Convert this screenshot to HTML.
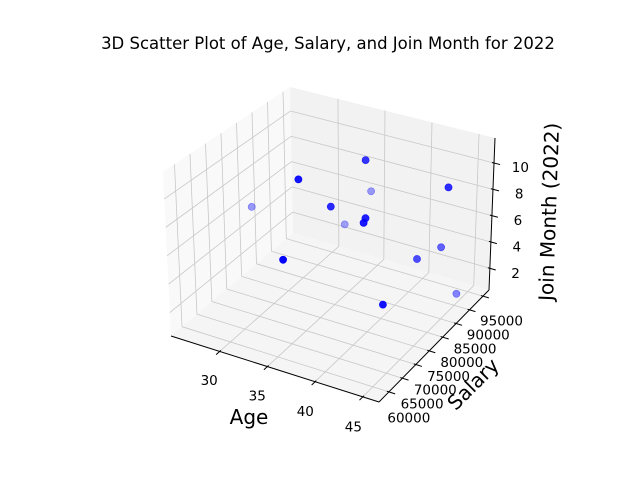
<!DOCTYPE html>
<html><head><meta charset="utf-8">
<style>
html,body{margin:0;padding:0;background:#fff;}
svg{display:block;font-family:"DejaVu Sans","Liberation Sans",sans-serif;}
</style></head>
<body>
<svg id="chart" width="640" height="480" viewBox="0 0 640 480" xmlns="http://www.w3.org/2000/svg">
  <text x="328" y="49" font-size="16.5" text-anchor="middle" fill="#000">3D Scatter Plot of Age, Salary, and Join Month for 2022</text>
  <g id="panes"></g>
  <g id="grid"></g>
  <g id="axes"></g>
  <g id="points"></g>
  <text x="249" y="424" font-size="20" text-anchor="middle">Age</text>
  <text x="0" y="0" font-size="20" text-anchor="middle" transform="translate(478,389) rotate(-45)">Salary</text>
  <text x="0" y="0" font-size="20" text-anchor="middle" transform="translate(556,212) rotate(-88)">Join Month (2022)</text>
</svg>
<script>
const ages = [25.9, 34.7, 38, 45.5, 36.8, 34.9, 40.4, 40.5, 33.3, 36.2, 44.3, 43.5, 44.3, 45.5];
const salaries = [81000, 69000, 81000, 85000, 73000, 93000, 73000, 72000, 89000, 58500, 87000, 81000, 66000, 89000];
const months = [5.6, 11.3, 11.4, 10.1, 9.1, 6.4, 8.95, 8.8, 4.3, 7.6, 5.1, 5.2, 4.8, 1.5];
const ageTicks = [30, 35, 40, 45];
const salaryTicks = [60000, 65000, 70000, 75000, 80000, 85000, 90000, 95000];
const monthTicks = [2, 4, 6, 8, 10];

const XL=[24.9,46.7], YL=[56300,97250], ZL=[0.35,11.9];
const C={ '000':[171,336],'100':[379,402],'110':[489,290],'010':[293,233],
          '011':[290,87],'111':[495,138],'001':[163,172],'101':[380,231]};
function lerp(a,b,t){return [a[0]+(b[0]-a[0])*t,a[1]+(b[1]-a[1])*t];}
function P(u,v,w){
  const a=lerp(C['000'],C['100'],u), b=lerp(C['010'],C['110'],u);
  const c=lerp(C['001'],C['101'],u), d=lerp(C['011'],C['111'],u);
  return lerp(lerp(a,b,v),lerp(c,d,v),w);
}
const nx=x=>(x-XL[0])/(XL[1]-XL[0]);
const ny=y=>(y-YL[0])/(YL[1]-YL[0]);
const nz=z=>(z-ZL[0])/(ZL[1]-ZL[0]);
const NS='http://www.w3.org/2000/svg';
function el(tag,attrs,parent){const e=document.createElementNS(NS,tag);for(const k in attrs)e.setAttribute(k,attrs[k]);parent.appendChild(e);return e;}
function poly(pts){return pts.map(p=>p[0].toFixed(1)+','+p[1].toFixed(1)).join(' ');}
function line(p,q,stroke,w,parent,name){const e=el('line',{x1:p[0],y1:p[1],x2:q[0],y2:q[1],stroke:stroke,'stroke-width':w},parent);
  
  
  return e;}

const panes=document.getElementById('panes');
let e;
e=el('polygon',{points:poly([P(0,0,0),P(0,1,0),P(0,1,1),P(0,0,1)]),fill:'#f9f9f9'},panes);


e=el('polygon',{points:poly([P(0,1,0),P(1,1,0),P(1,1,1),P(0,1,1)]),fill:'#f2f2f2'},panes);


e=el('polygon',{points:poly([P(0,0,0),P(1,0,0),P(1,1,0),P(0,1,0)]),fill:'#f5f5f5'},panes);



const grid=document.getElementById('grid');
const G='#c8c8c8';
ageTicks.forEach(t=>{const u=nx(t);
  line(P(u,0,0),P(u,1,0),G,0.8,grid,'grid-floor-age');
  line(P(u,1,0),P(u,1,1),G,0.8,grid,'grid-back-age');});
salaryTicks.forEach(t=>{const v=ny(t);
  line(P(0,v,0),P(1,v,0),G,0.8,grid,'grid-floor-salary');
  line(P(0,v,0),P(0,v,1),G,0.8,grid,'grid-left-salary');});
monthTicks.forEach(t=>{const w=nz(t);
  line(P(0,0,w),P(0,1,w),G,0.8,grid,'grid-left-month');
  line(P(0,1,w),P(1,1,w),G,0.8,grid,'grid-back-month');});

const axes=document.getElementById('axes');
line(P(0,0,0),P(1,0,0),'#000',1,axes,'x-axis-line');
line(P(1,0,0),P(1,1,0),'#000',1,axes,'y-axis-line');
line(P(1,1,0),P(1,1,1),'#000',1,axes,'z-axis-line');
function label(x,y,txt,anchor,name){const t=el('text',{x:x,y:y,'font-size':13.5,'text-anchor':anchor,fill:'#000'},axes);t.textContent=txt;
  
  }
ageTicks.forEach(t=>{const u=nx(t);
  line(P(u,0.01,0),P(u,-0.03,0),'#000',1,axes,'x-tick');
  const p=P(u,-0.13,0); label(p[0]+5,p[1]+20,String(t),'middle','x-tick-label');});
salaryTicks.forEach(t=>{const v=ny(t);
  line(P(0.99,v,0),P(1.03,v,0),'#000',1,axes,'y-tick');
  const p=P(1.13,v,0); label(p[0]-7,p[1]+22,String(t),'middle','y-tick-label');});
monthTicks.forEach(t=>{const w=nz(t);
  line(P(0.99,1,w),P(1.03,1,w),'#000',1,axes,'z-tick');
  const p=P(1.1,1,w); label(p[0]+6,p[1]+4,String(t),'middle','z-tick-label');});

const pts=document.getElementById('points');
const depth=ages.map((a,i)=>-0.5*nx(a)+0.866*ny(salaries[i])-0.5*nz(months[i]));
const dmin=Math.min(...depth), dmax=Math.max(...depth);
const order=ages.map((_,i)=>i).sort((a,b)=>depth[b]-depth[a]);
order.forEach(i=>{const p=P(nx(ages[i]),ny(salaries[i]),nz(months[i]));
  const al=1-0.65*(depth[i]-dmin)/(dmax-dmin);
  const c=el('circle',{cx:p[0].toFixed(1),cy:p[1].toFixed(1),r:3.6,fill:'#0000ff','fill-opacity':al.toFixed(2),stroke:'#0000ff','stroke-opacity':al.toFixed(2),'stroke-width':0.6},pts);
  
  
});
</script>
</body></html>
